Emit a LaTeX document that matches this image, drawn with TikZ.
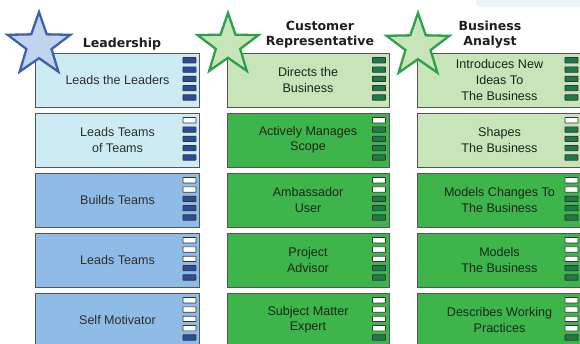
\documentclass[tikz,border=0pt]{standalone}
\usepackage{fontspec}
\setmainfont{Liberation Sans}
\newfontfamily\titlefont{DejaVu Sans}
\usetikzlibrary{calc}
\definecolor{boxline}{HTML}{555555}
\definecolor{sqline}{HTML}{333333}
\definecolor{paleblue}{HTML}{CDEBF3}
\definecolor{midblue}{HTML}{8EBCE6}
\definecolor{darkblue}{HTML}{2C4B9B}
\definecolor{palegreen}{HTML}{C8E4B9}
\definecolor{brightgreen}{HTML}{3DB54A}
\definecolor{darkgreen}{HTML}{1F7A47}
\definecolor{starblue}{HTML}{3F5FAF}
\definecolor{starbluefill}{HTML}{C0D4EE}
\definecolor{stargreen}{HTML}{2EA04A}
\definecolor{stargreenfill}{HTML}{C8E4B9}
\definecolor{bandcol}{HTML}{EAF5F9}
\definecolor{bodytext}{HTML}{2E2E2E}
\definecolor{greentext}{HTML}{1A261A}
\tikzset{
  card/.style={draw=boxline, line width=0.9bp, minimum width=164bp, minimum height=54bp,
    inner sep=0pt, align=center, font=\fontsize{12.6}{15.5}\selectfont, text=bodytext},
  cardg/.style={card, text=greentext},
  titletext/.style={font=\titlefont\bfseries\fontsize{12.6}{15}\selectfont, text=black!88, inner sep=0pt},
  starline/.style={line width=2.3bp, line join=miter}
}
\newcommand\levelbars[3]{%
  \foreach \k in {1,...,5}{%
    \ifnum\k>\numexpr5-#2\relax
      \draw[rounded corners=0.4bp, draw=sqline, line width=0.7bp, fill=#3]
        ($(#1.north east)+(-17,5+\k*9.3-9.3)$) rectangle ++(13,5.4);
    \else
      \draw[rounded corners=0.4bp, draw=sqline, line width=0.7bp, fill=white]
        ($(#1.north east)+(-17,5+\k*9.3-9.3)$) rectangle ++(13,5.4);
    \fi
  }%
}
\newcommand\drawstar[5]{%
  \draw[starline, draw=#4, fill=#5] ({#1},{#2-#3})
    \foreach \a/\f in {126/0.40,162/1,198/0.40,234/1,270/0.40,306/1,342/0.40,18/1,54/0.40}{
      -- ({#1+\f*#3*cos(\a)},{#2-\f*#3*sin(\a)})} -- cycle;
}
\begin{document}
\begin{tikzpicture}[x=1bp,y=-1bp]
\useasboundingbox (0,0) rectangle (580,343);
\fill[white] (0,0) rectangle (580,343);
\fill[bandcol, rounded corners=4bp] (476,-6) rectangle (592,7);

% Leadership column
\node[card, fill=paleblue] (l1) at (117.5,80) {Leads the Leaders};
\node[card, fill=paleblue] (l2) at (117.5,140) {Leads Teams\\of Teams};
\node[card, fill=midblue] (l3) at (117.5,200) {Builds Teams};
\node[card, fill=midblue] (l4) at (117.5,260) {Leads Teams};
\node[card, fill=midblue] (l5) at (117.5,320) {Self Motivator};

% Customer Representative column
\node[cardg, fill=palegreen, minimum width=162bp] (c1) at (308,80) {Directs the\\Business};
\node[cardg, fill=brightgreen, minimum width=162bp] (c2) at (308,140) {Actively Manages\\Scope};
\node[cardg, fill=brightgreen, minimum width=162bp] (c3) at (308,200) {Ambassador\\User};
\node[cardg, fill=brightgreen, minimum width=162bp] (c4) at (308,260) {Project\\Advisor};
\node[cardg, fill=brightgreen, minimum width=162bp] (c5) at (308,320) {Subject Matter\\Expert};

% Business Analyst column
\node[cardg, fill=palegreen, font=\fontsize{12.6}{16}\selectfont] (b1) at (499.5,80) {Introduces New\\Ideas To\\The Business};
\node[cardg, fill=palegreen] (b2) at (499.5,140) {Shapes\\The Business};
\node[cardg, fill=brightgreen] (b3) at (499.5,200) {Models Changes To\\The Business};
\node[cardg, fill=brightgreen] (b4) at (499.5,260) {Models\\The Business};
\node[cardg, fill=brightgreen] (b5) at (499.5,320) {Describes Working\\Practices};

\levelbars{l1}{5}{darkblue}
\levelbars{l2}{4}{darkblue}
\levelbars{l3}{3}{darkblue}
\levelbars{l4}{2}{darkblue}
\levelbars{l5}{1}{darkblue}
\levelbars{c1}{5}{darkgreen}
\levelbars{c2}{4}{darkgreen}
\levelbars{c3}{3}{darkgreen}
\levelbars{c4}{2}{darkgreen}
\levelbars{c5}{1}{darkgreen}
\levelbars{b1}{5}{darkgreen}
\levelbars{b2}{4}{darkgreen}
\levelbars{b3}{3}{darkgreen}
\levelbars{b4}{2}{darkgreen}
\levelbars{b5}{1}{darkgreen}

% stars
\drawstar{39}{45}{33}{starblue}{starbluefill}
\drawstar{228}{45}{32}{stargreen}{stargreenfill}
\drawstar{418}{46}{33}{stargreen}{stargreenfill}

% titles
\node[titletext, anchor=base] (t1) at (122,47) {Leadership};
\node[titletext, anchor=base] (t2a) at (320,30) {Customer};
\node[titletext, anchor=base] (t2b) at (320,45) {Representative};
\node[titletext, anchor=base] (t3a) at (490,30) {Business};
\node[titletext, anchor=base] (t3b) at (490,45) {Analyst};
\end{tikzpicture}
\end{document}
